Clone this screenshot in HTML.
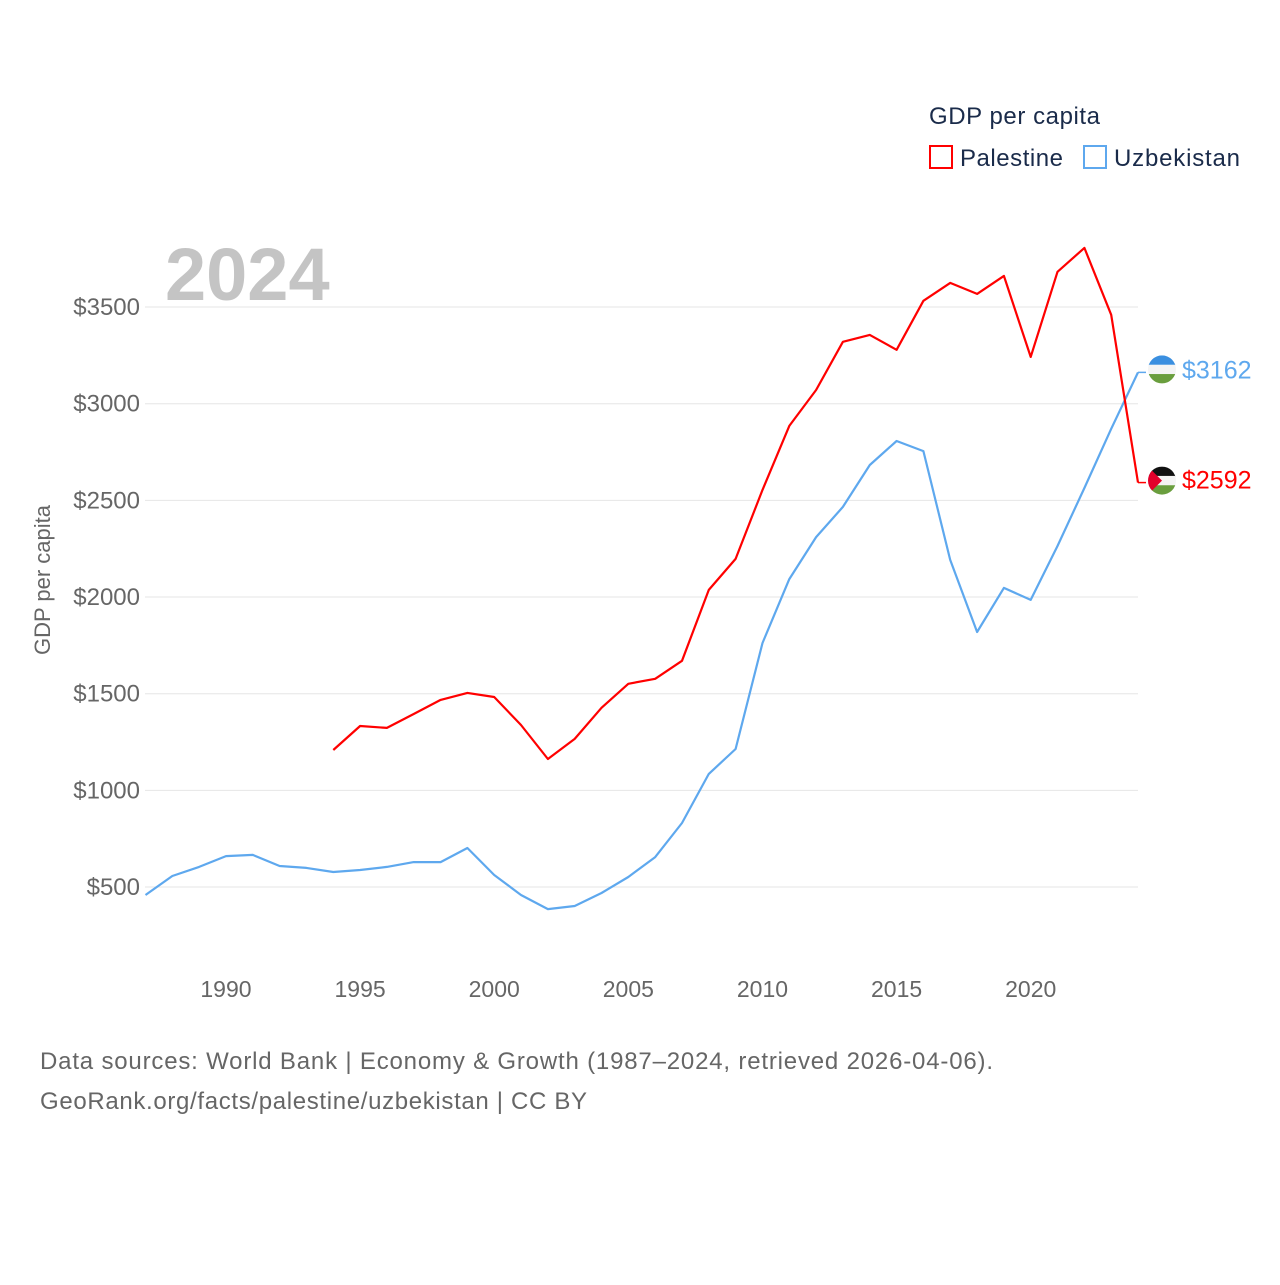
<!DOCTYPE html>
<html><head><meta charset="utf-8"><style>
body{margin:0;background:#fff;font-family:"Liberation Sans",sans-serif}
svg text{font-family:"Liberation Sans",sans-serif}
</style></head><body>
<svg width="1280" height="1280" viewBox="0 0 1280 1280">
<g id="grid"></g><g id="yt"></g><g id="xt"></g><g id="lines"></g>
<text x="165" y="300" font-size="74" font-weight="bold" fill="#c4c4c4">2024</text>
<text transform="translate(50,580) rotate(-90)" text-anchor="middle" font-size="22" fill="#666">GDP per capita</text>
<text x="929" y="124" font-size="24" fill="#1a2b4a" textLength="171">GDP per capita</text>
<g><rect x="930" y="146" width="22" height="22" fill="none" stroke="#f00" stroke-width="2"/><text x="960" y="166" font-size="24" fill="#1a2b4a" textLength="103">Palestine</text></g>
<g><rect x="1084" y="146" width="22" height="22" fill="none" stroke="#5ea8ee" stroke-width="2"/><text x="1114" y="166" font-size="24" fill="#1a2b4a" textLength="126">Uzbekistan</text></g>
<text x="40" y="1069" font-size="24" fill="#666" textLength="953">Data sources: World Bank | Economy &amp; Growth (1987–2024, retrieved 2026-04-06).</text>
<text x="40" y="1109" font-size="24" fill="#666" textLength="547">GeoRank.org/facts/palestine/uzbekistan | CC BY</text>
</svg>
<script>
const years=[];for(let y=1987;y<=2024;y++)years.push(y);
const uzb=[459,557,604,660,666,609,599,578,588,604,629,629,702,562,459,386,402,469,552,655,831,1085,1214,1762,2093,2310,2466,2683,2807,2755,2192,1819,2047,1985,2264,2564,2870,3162];
const pseYears=[];for(let y=1994;y<=2024;y++)pseYears.push(y);
const pse=[1209,1333,1323,1395,1468,1504,1483,1338,1162,1266,1427,1551,1577,1670,2037,2197,2554,2885,3071,3320,3356,3279,3532,3625,3568,3661,3242,3682,3806,3460,2592];
const yTicks=[500,1000,1500,2000,2500,3000,3500];
const xTicks=[1990,1995,2000,2005,2010,2015,2020];
const X=y=>145.5+(y-1987)*(1138-145.5)/37;
const Y=v=>983.7-v*0.193333;
const NS="http://www.w3.org/2000/svg";
function mk(t,a,p){const e=document.createElementNS(NS,t);for(const k in a)e.setAttribute(k,a[k]);p.appendChild(e);return e;}
const grid=document.getElementById('grid'),yt=document.getElementById('yt'),xt=document.getElementById('xt'),L=document.getElementById('lines');
yTicks.forEach(v=>{
 const l=mk('line',{x1:145,x2:1138,y1:Y(v),y2:Y(v),stroke:'#e6e6e6','stroke-width':1},grid);
 
 
 const t=mk('text',{x:140,y:Y(v)+8,'text-anchor':'end','font-size':24,fill:'#666'},yt);t.textContent='$'+v;
 
 
});
xTicks.forEach(v=>{
 const t=mk('text',{x:X(v),y:997,'text-anchor':'middle','font-size':23,fill:'#666'},xt);t.textContent=v;
 
 
});
function line(ys,vals,col,name){
 const d=ys.map((y,i)=>(i?'L':'M')+X(y).toFixed(1)+','+Y(vals[i]).toFixed(1)).join('');
 const p=mk('path',{d:d,fill:'none',stroke:col,'stroke-width':2.2,'stroke-linejoin':'round'},L);
 
 
 const last=vals[vals.length-1],yy=Y(last);
 mk('line',{x1:1138,x2:1146,y1:yy,y2:yy,stroke:col,'stroke-width':1.5},L);
 return yy;
}
const yu=line(years,uzb,'#5ea8ee','uzbekistan');
const yp=line(pseYears,pse,'#f00','palestine');
function flag(cy,cols,tri,name){
 const cx=1162,r=14,g=mk('g',{},L);
 
 
 const cp='c'+Math.round(cy);
 const c=mk('clipPath',{id:cp},g);mk('circle',{cx:cx,cy:cy,r:r},c);
 const gg=mk('g',{'clip-path':'url(#'+cp+')'},g);
 cols.forEach((col,i)=>mk('rect',{x:cx-r,y:cy-r+i*2*r/3,width:2*r,height:2*r/3+0.5,fill:col},gg));
 if(tri)mk('path',{d:`M${cx-r},${cy-r}L${cx},${cy}L${cx-r},${cy+r}Z`,fill:'#e4002b'},gg);
}
flag(yu-3,['#3a8fe0','#f4f4f4','#6a9e3e'],false,'uzbekistan');
flag(yp-2,['#111','#f4f4f4','#6a9e3e'],true,'palestine');
const tu=mk('text',{x:1182,y:yu+6,'font-size':25,fill:'#5ea8ee'},L);tu.textContent='$'+uzb[uzb.length-1];


const tp=mk('text',{x:1182,y:yp+6,'font-size':25,fill:'#f00'},L);tp.textContent='$'+pse[pse.length-1];


</script>
</body></html>
